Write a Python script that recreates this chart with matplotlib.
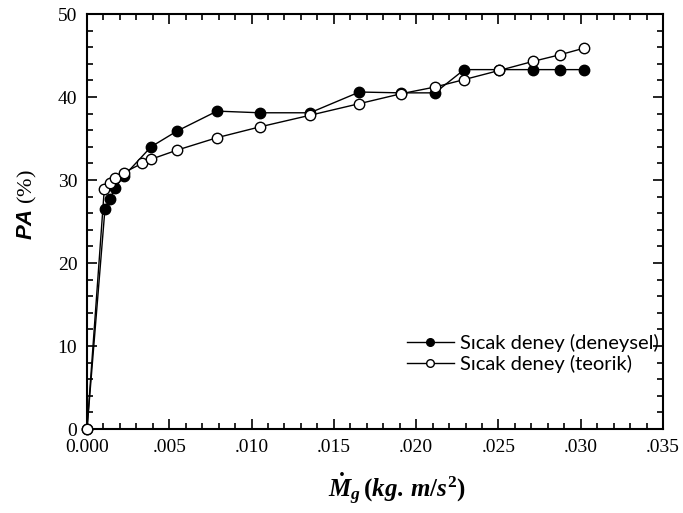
import numpy as np
import matplotlib.pyplot as plt
from matplotlib.ticker import MultipleLocator, FuncFormatter

plt.rcParams['mathtext.fontset'] = 'custom'
plt.rcParams['mathtext.rm'] = 'Liberation Serif:bold'
plt.rcParams['mathtext.it'] = 'Liberation Serif:italic:bold'
plt.rcParams['mathtext.bf'] = 'Liberation Serif:bold'
plt.rcParams['mathtext.sf'] = 'Liberation Sans:italic:bold'

# Sıcak deney - deneysel
mg_deneysel = [0.0, 0.00109, 0.0014, 0.00168, 0.00225, 0.00389, 0.00547, 0.0079,
               0.0105, 0.01355, 0.01655, 0.0191, 0.02114, 0.02292, 0.02505,
               0.02712, 0.02876, 0.03023]
pa_deneysel = [0.0, 26.5, 27.7, 29.0, 30.5, 34.0, 35.9, 38.3,
               38.1, 38.1, 40.6, 40.5, 40.5, 43.3, 43.3,
               43.3, 43.3, 43.3]

# Sıcak deney - teorik
mg_teorik = [0.0, 0.00105, 0.0014, 0.00168, 0.00225, 0.00334, 0.00389, 0.00547,
             0.0079, 0.0105, 0.01355, 0.01655, 0.0191, 0.02114, 0.02292,
             0.02505, 0.02712, 0.02876, 0.03023]
pa_teorik = [0.0, 28.9, 29.6, 30.2, 30.9, 32.0, 32.5, 33.6,
             35.1, 36.4, 37.8, 39.2, 40.4, 41.2, 42.1,
             43.2, 44.3, 45.1, 45.9]

fig = plt.figure(figsize=(6.83, 5.13), dpi=100)
ax = fig.add_axes([0.1274, 0.1637, 0.8433, 0.809])

ax.plot(mg_deneysel, pa_deneysel, color='black', lw=1.0, marker='o', ms=7.5,
        mfc='black', mec='black', mew=1.0, label='Sıcak deney (deneysel)',
        zorder=3, clip_on=False)
ax.plot(mg_teorik, pa_teorik, color='black', lw=1.0, marker='o', ms=7.5,
        mfc='white', mec='black', mew=1.0, label='Sıcak deney (teorik)',
        zorder=4, clip_on=False)

ax.set_xlim(0, 0.035)
ax.set_ylim(0, 50)
ax.xaxis.set_major_locator(MultipleLocator(0.005))
ax.xaxis.set_minor_locator(MultipleLocator(0.001))
ax.yaxis.set_major_locator(MultipleLocator(10))
ax.yaxis.set_minor_locator(MultipleLocator(2))


def xfmt(v, pos):
    if abs(v) < 1e-9:
        return '0.000'
    return ('%.3f' % v)[1:]


ax.xaxis.set_major_formatter(FuncFormatter(xfmt))
ax.tick_params(which='both', direction='in', top=True, right=True, width=1.2)
ax.tick_params(which='major', length=7, labelsize=14, pad=7)
ax.tick_params(which='minor', length=4)
for lab in ax.get_xticklabels() + ax.get_yticklabels():
    lab.set_family('Liberation Serif')
for sp in ax.spines.values():
    sp.set_linewidth(1.5)

ax.set_xlabel(r'$\dot{M}_g\,(kg.\,m/s^2)$', fontsize=18)
ax.xaxis.set_label_coords(0.538, -0.1)
ax.set_ylabel(r'$\mathsf{PA}$ (%)', fontsize=16, family='Liberation Serif')
ax.yaxis.set_label_coords(-0.084, 0.54)

leg = ax.legend(loc='upper left', bbox_to_anchor=(0.556, 0.23), frameon=False,
                prop={'family': 'Lato', 'size': 14.5}, handlelength=2.3,
                handletextpad=0.3, borderpad=0, borderaxespad=0, labelspacing=0.15)
for line in leg.get_lines():
    line.set_markersize(5.5)

fig.savefig('out.png', dpi=100)
